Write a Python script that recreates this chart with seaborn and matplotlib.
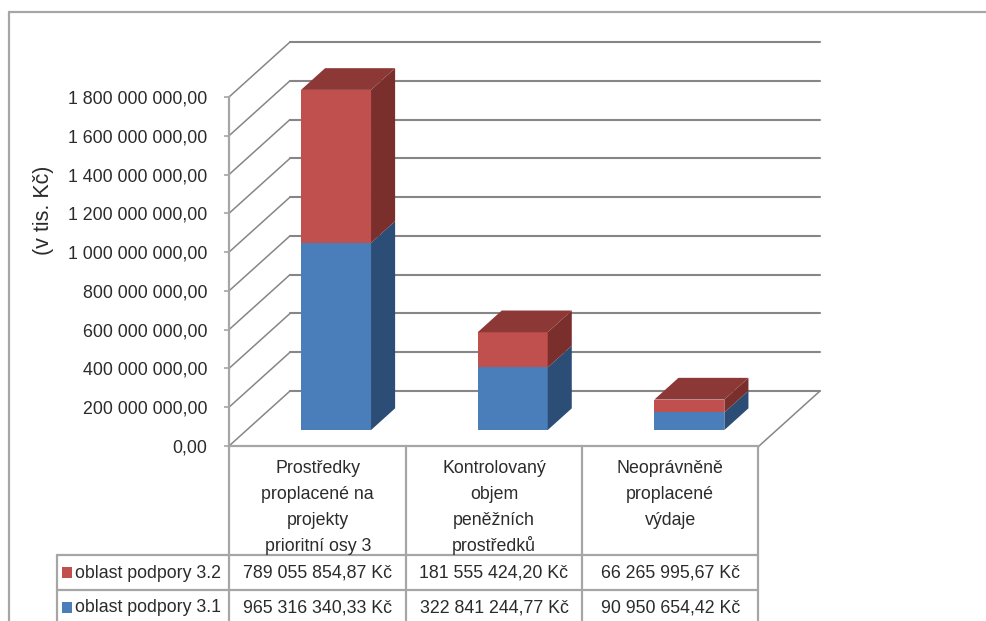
import numpy as np
import matplotlib.pyplot as plt
import seaborn as sns
from matplotlib.lines import Line2D
from matplotlib.patches import Polygon, Rectangle

categories = ["Prostředky\nproplacené na\nprojekty\nprioritní osy 3",
              "Kontrolovaný\nobjem\npeněžních\nprostředků",
              "Neoprávněně\nproplacené\nvýdaje"]
series_names = ["oblast podpory 3.2", "oblast podpory 3.1"]
values_32 = [789055854.87, 181555424.20, 66265995.67]
values_31 = [965316340.33, 322841244.77, 90950654.42]
labels_32 = ["789 055 854,87 Kč", "181 555 424,20 Kč", "66 265 995,67 Kč"]
labels_31 = ["965 316 340,33 Kč", "322 841 244,77 Kč", "90 950 654,42 Kč"]
y_ticks = [0, 200e6, 400e6, 600e6, 800e6, 1000e6, 1200e6, 1400e6, 1600e6, 1800e6]

W, H = 987, 621
GRAY = "#868686"
FRAME = "#a6a6a6"
TEXT = "#2b2b2b"
FRONT = {"red": "#c0504d", "blue": "#4a7ebb"}
SIDE = {"red": "#7b2f2d", "blue": "#2c4d75"}
TOP_RED = "#8c3836"

sns.set_style("white")
plt.rcParams["font.family"] = ["Liberation Sans", "DejaVu Sans"]
plt.rcParams["font.size"] = 12.75

fig = plt.figure(figsize=(W / 100, H / 100), dpi=100)
# axes box = front plane of the 3D chart
ax = fig.add_axes([229 / W, 1 - 446 / H, 530 / W, 349 / H])


def fx(px):
    return px / W


def fy(py):
    return 1 - py / H


def line(x0, y0, x1, y1, lw=1.6, color=FRAME):
    fig.add_artist(Line2D([fx(x0), fx(x1)], [fy(y0), fy(y1)], color=color, lw=lw))


# depth of the 3D box in data units
depth_x = 61 / (530 / 3)
depth_y = 55 / 349 * 1.8e9
bar_d0, bar_d1 = 0.29, 0.685
bar_w = 70 / (530 / 3)

# side wall and back wall gridlines
for t in y_ticks:
    ax.plot([-0.5, -0.5 + depth_x], [t, t + depth_y], color=GRAY, lw=1.1, clip_on=False, zorder=1)
    ax.plot([-0.5 + depth_x, 2.5 + depth_x], [t + depth_y, t + depth_y],
            color=GRAY, lw=1.5, clip_on=False, zorder=1)
ax.plot([2.5, 2.5 + depth_x], [0, depth_y], color=GRAY, lw=1.1, clip_on=False, zorder=1)

idx = np.arange(3)
xs = idx + bar_d0 * depth_x + 1 / (530 / 3)
lift = bar_d0 * depth_y
v31 = np.array(values_31)
v32 = np.array(values_32)

sns.barplot(x=xs, y=v31, bottom=lift, native_scale=True, width=bar_w, color=FRONT["blue"],
            saturation=1, errorbar=None, ax=ax, zorder=3, clip_on=False, linewidth=0)
sns.barplot(x=xs, y=v32, bottom=lift + v31, native_scale=True, width=bar_w, color=FRONT["red"],
            saturation=1, errorbar=None, ax=ax, zorder=3, clip_on=False, linewidth=0)

# side and top faces
dd = bar_d1 - bar_d0
for x, a, b in zip(xs, v31, v32):
    xr = x + bar_w / 2
    xl = x - bar_w / 2
    sx, sy = dd * depth_x, dd * depth_y
    for low, high, key in [(0, a, "blue"), (a, a + b, "red")]:
        ax.add_patch(Polygon([(xr, lift + low), (xr + sx, lift + low + sy),
                              (xr + sx, lift + high + sy), (xr, lift + high)],
                             fc=SIDE[key], ec="none", zorder=3, clip_on=False))
    top = lift + a + b
    ax.add_patch(Polygon([(xl, top), (xl + sx, top + sy), (xr + sx, top + sy), (xr, top)],
                         fc=TOP_RED, ec="none", zorder=3, clip_on=False))

ax.set_xlim(-0.5, 2.5)
ax.set_ylim(0, 1.8e9)
ax.set_xticks([])
ax.set_yticks(y_ticks)
ax.set_yticklabels([f"{t:,.2f}".replace(",", " ").replace(".", ",") for t in y_ticks], color=TEXT)
ax.tick_params(axis="y", length=3.5, width=1.2, color=FRAME, left=True, pad=12)
ax.patch.set_alpha(0)
sns.despine(ax=ax, top=True, right=True)
for side in ["left", "bottom"]:
    ax.spines[side].set_color(FRAME)
    ax.spines[side].set_linewidth(1.6)
ax.spines["left"].set_zorder(2)
ax.set_ylabel("")
ax.set_xlabel("")
fig.text(fx(44), fy(210), "(v tis. Kč)", rotation=90, ha="center", va="center",
         color=TEXT, fontsize=15.5)

# outer frame, open on the right
line(9, 11.5, W, 11.5)
line(9, 11.5, 9, H)

# data table
col_x = [229.5, 406, 582, 758.5]
for x in col_x:
    line(x, 446, x, H)
line(57, 555, 758.5, 555)
line(57, 590, 758.5, 590)
line(57, 555, 57, H)
row_y = [573, 608]
for i, cat in enumerate(categories):
    cx = (col_x[i] + col_x[i + 1]) / 2
    # one text per line so baselines line up across the columns
    for j, part in enumerate(cat.split("\n")):
        fig.text(fx(cx), fy(473 + j * 26), part, ha="center", va="baseline", color=TEXT)
    fig.text(fx(cx), fy(row_y[0]), labels_32[i], ha="center", va="center", color=TEXT)
    fig.text(fx(cx), fy(row_y[1]), labels_31[i], ha="center", va="center", color=TEXT)
for name, y, key in zip(series_names, row_y, ["red", "blue"]):
    fig.add_artist(Rectangle((fx(62), fy(y + 5)), 10 / W, 11 / H, fc=FRONT[key], ec="none",
                             transform=fig.transFigure))
    fig.text(fx(75), fy(y), name, ha="left", va="center", color=TEXT)

fig.savefig("out.png", dpi=100)
